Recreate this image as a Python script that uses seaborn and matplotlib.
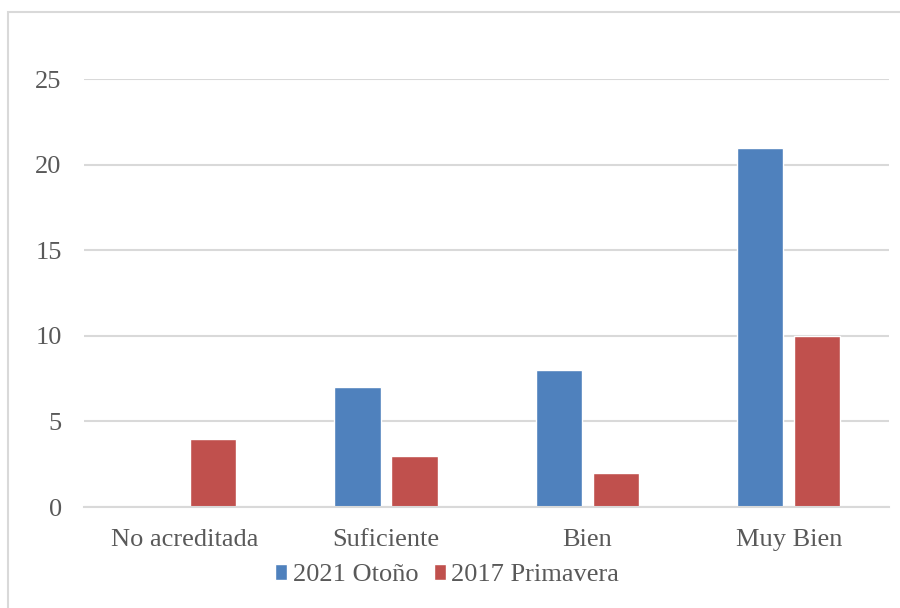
import matplotlib
matplotlib.use("Agg")
import matplotlib.pyplot as plt
import matplotlib.patches as mpatches
import seaborn as sns
import pandas as pd

categories = ["No acreditada", "Suficiente", "Bien", "Muy Bien"]
series_names = ["2021 Otoño", "2017 Primavera"]
otono_2021 = [0, 7, 8, 21]
primavera_2017 = [4, 3, 2, 10]
colors = ["#4F81BD", "#C0504D"]
yticks = [0, 5, 10, 15, 20, 25]

df = pd.DataFrame({
    "cat": categories * 2,
    "serie": [series_names[0]] * 4 + [series_names[1]] * 4,
    "val": otono_2021 + primavera_2017,
})

sns.set_theme(style="white")
plt.rcParams["font.family"] = ["Liberation Serif", "DejaVu Serif"]

fig = plt.figure(figsize=(9, 6.08), dpi=100)
ax = fig.add_axes([0.0933, 0.166, 0.895, 0.704])

sns.barplot(data=df, x="cat", y="val", hue="serie", palette=colors,
            width=0.567, gap=0.19, saturation=1, ax=ax, order=categories,
            hue_order=series_names)

ax.set_ylim(0, 25)
ax.set_xlim(-0.5, 3.5)
ax.set_yticks(yticks)
ax.yaxis.grid(True, color="#D9D9D9", linewidth=1.5)
ax.set_axisbelow(True)
for s in ["top", "right", "left"]:
    ax.spines[s].set_visible(False)
ax.spines["bottom"].set_color("#D9D9D9")
ax.spines["bottom"].set_linewidth(1.5)
ax.set_xlabel("")
ax.set_ylabel("")
ax.tick_params(axis="both", length=0, labelsize=19, colors="#595959")
ax.tick_params(axis="y", pad=16)
ax.tick_params(axis="x", pad=16)

sns.move_legend(ax, "center", bbox_to_anchor=(0.497, 0.054),
                bbox_transform=fig.transFigure, ncol=2, frameon=False,
                title=None, fontsize=19, handlelength=0.45, handleheight=0.55,
                handletextpad=0.2, columnspacing=0.6, labelcolor="#595959")

fig.patches.append(mpatches.Rectangle((8 / 900, -0.05), 1.1, 1 - 12 / 608 + 0.05,
                                      transform=fig.transFigure, fill=False,
                                      edgecolor="#D9D9D9", linewidth=1.5,
                                      zorder=-1))

fig.savefig("out.png", dpi=100)
